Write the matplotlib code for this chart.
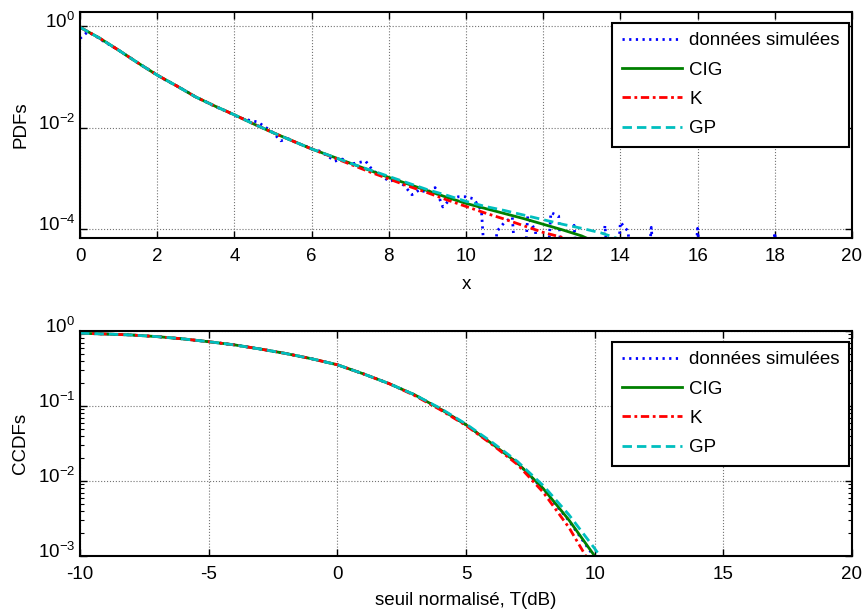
import numpy as np
import matplotlib
matplotlib.use('Agg')
import matplotlib.pyplot as plt
import matplotlib.transforms as mtransforms
from matplotlib.ticker import LogLocator, NullLocator

plt.rcParams['font.family'] = ['Liberation Sans', 'DejaVu Sans']
plt.rcParams['mathtext.fontset'] = 'custom'
plt.rcParams['mathtext.rm'] = 'Liberation Sans'
plt.rcParams['axes.unicode_minus'] = False

labels = ['données simulées', 'CIG', 'K', 'GP']

# ---- PDFs (log10 values) ----
x_sim = np.arange(0, 20.01, 0.2)
Z = -6.0  # empty bin
pdf_sim = [-0.25, -0.12, -0.20, -0.30, -0.39, -0.48, -0.58, -0.68, -0.78, -0.87,
           -0.97, -1.06, -1.14, -1.22, -1.31, -1.40, -1.47, -1.55, -1.62, -1.68,
           -1.76, -1.82, -1.86, -1.89, -1.99, -2.10, -2.26, -2.22, -2.30, -2.35,
           -2.42, -2.46, -2.55, -2.66, -2.62, -2.72, -2.69, -2.66, -2.86, -2.92,
           -3.06, -3.02, -3.14, -3.32, -3.22, -3.28, -3.18, -3.56, -3.40, -3.36,
           -3.36, -3.40, -3.63, Z, -4.04, -3.86, -3.76, Z, -3.74, -4.04,
           Z, -3.67, -3.74, Z, -3.92, Z, Z, Z, -3.92, Z,
           -3.86, -4.04, Z, Z, -3.96, Z, Z, Z, Z, Z,
           -3.98, Z, Z, Z, Z, Z, Z, Z, Z, Z,
           -4.06, Z, Z, Z, Z, Z, Z, Z, Z, Z, Z]

x_pdf = np.arange(0, 14.01, 0.5)
pdf_cig = [-0.03, -0.24, -0.48, -0.73, -0.97, -1.18, -1.40, -1.58, -1.75, -1.93,
           -2.10, -2.26, -2.42, -2.56, -2.70, -2.84, -2.98, -3.11, -3.24, -3.37,
           -3.49, -3.59, -3.69, -3.79, -3.90, -4.01, -4.13, -4.30, -4.50]
pdf_k = [-0.03, -0.24, -0.48, -0.73, -0.97, -1.18, -1.40, -1.58, -1.75, -1.93,
         -2.10, -2.26, -2.42, -2.57, -2.72, -2.87, -3.01, -3.15, -3.28, -3.42,
         -3.55, -3.68, -3.80, -3.93, -4.06, -4.16, -4.30, -4.45, -4.60]
pdf_gp = [-0.03, -0.24, -0.48, -0.73, -0.97, -1.18, -1.40, -1.58, -1.75, -1.93,
          -2.10, -2.26, -2.42, -2.56, -2.70, -2.83, -2.96, -3.09, -3.22, -3.33,
          -3.45, -3.55, -3.63, -3.72, -3.81, -3.90, -3.98, -4.07, -4.20]

# ---- CCDFs (log10 values) ----
x_ccdf = np.arange(-10, 11.01, 1.0)
ccdf_sim = [-0.03, -0.04, -0.053, -0.075, -0.105, -0.143, -0.185, -0.24, -0.30, -0.37,
            -0.45, -0.57, -0.70, -0.85, -1.04, -1.25, -1.50, -1.76, -2.11, -2.53,
            -3.02, -3.50]
ccdf_cig = [-0.03, -0.04, -0.053, -0.075, -0.105, -0.143, -0.185, -0.24, -0.30, -0.37,
            -0.45, -0.57, -0.70, -0.85, -1.04, -1.25, -1.50, -1.76, -2.10, -2.52,
            -3.00, -3.50]
ccdf_k = [-0.03, -0.04, -0.053, -0.075, -0.105, -0.143, -0.185, -0.24, -0.30, -0.37,
          -0.45, -0.57, -0.70, -0.86, -1.05, -1.26, -1.51, -1.78, -2.15, -2.62,
          -3.20, -3.80]
ccdf_gp = [-0.03, -0.04, -0.053, -0.075, -0.105, -0.143, -0.185, -0.24, -0.30, -0.37,
           -0.45, -0.57, -0.70, -0.85, -1.03, -1.24, -1.48, -1.74, -2.06, -2.45,
           -2.90, -3.40]

colors = ['#0000ff', '#008000', '#ff0000', '#00bfbf']
styles = [':', '-', '-.', '--']
dashes = [(0.8, 1.6), None, (3.0, 1.3, 1.0, 1.3), (3.4, 1.8)]

fig = plt.figure(figsize=(8.64, 6.12), dpi=100)
ax1 = fig.add_axes([80/864, 1-238/612, 772/864, 226/612])
ax2 = fig.add_axes([80/864, 1-556/612, 772/864, 225/612])


def draw(ax, xs, ys):
    for i in range(4):
        ln, = ax.semilogy(xs[i], 10**np.array(ys[i]), styles[i], color=colors[i],
                          lw=2, label=labels[i])
        if dashes[i] is not None:
            ln.set_dashes(dashes[i])


draw(ax1, [x_sim, x_pdf, x_pdf, x_pdf], [pdf_sim, pdf_cig, pdf_k, pdf_gp])
draw(ax2, [x_ccdf] * 4, [ccdf_sim, ccdf_cig, ccdf_k, ccdf_gp])

ax1.set_xlim(0, 20)
ax1.set_ylim(10**-4.17, 10**0.27)
ax1.set_xticks(range(0, 21, 2))
ax1.set_yticks([1e0, 1e-2, 1e-4])
ax1.yaxis.set_minor_locator(NullLocator())
ax1.set_xlabel('x', fontsize=13.5, labelpad=8)
ax1.set_ylabel('PDFs', fontsize=13.5, labelpad=6)

ax2.set_xlim(-10, 20)
ax2.set_ylim(1e-3, 1)
ax2.set_xticks(range(-10, 21, 5))
ax2.set_yticks([1e0, 1e-1, 1e-2, 1e-3])
ax2.yaxis.set_minor_locator(LogLocator(subs=np.arange(2, 10)))
ax2.set_xlabel('seuil normalisé, T(dB)', fontsize=13.5, labelpad=7)
ax2.set_ylabel('CCDFs', fontsize=13.5, labelpad=6)

up = mtransforms.ScaledTranslation(0, 6/100, fig.dpi_scale_trans)
for ax in (ax1, ax2):
    ax.grid(True, which='major', ls=':', color='0.45', lw=0.8)
    ax.tick_params(direction='in', top=True, right=True, labelsize=13.5,
                   length=5, width=1, which='major')
    ax.tick_params(axis='x', pad=7)
    ax.tick_params(direction='in', top=True, right=True, length=3, width=0.8,
                   which='minor')
    for s in ax.spines.values():
        s.set_linewidth(1.5)
    for lab in ax.get_yticklabels():
        lab.set_transform(lab.get_transform() + up)
    leg = ax.legend(loc='upper right', bbox_to_anchor=(0.996, 0.952),
                    borderaxespad=0, fancybox=False, framealpha=1,
                    edgecolor='black', fontsize=13.5, handlelength=3.2,
                    handletextpad=0.4, labelspacing=0.65, borderpad=0.5)
    leg.get_frame().set_linewidth(1.5)

fig.savefig('out.png', dpi=100)
